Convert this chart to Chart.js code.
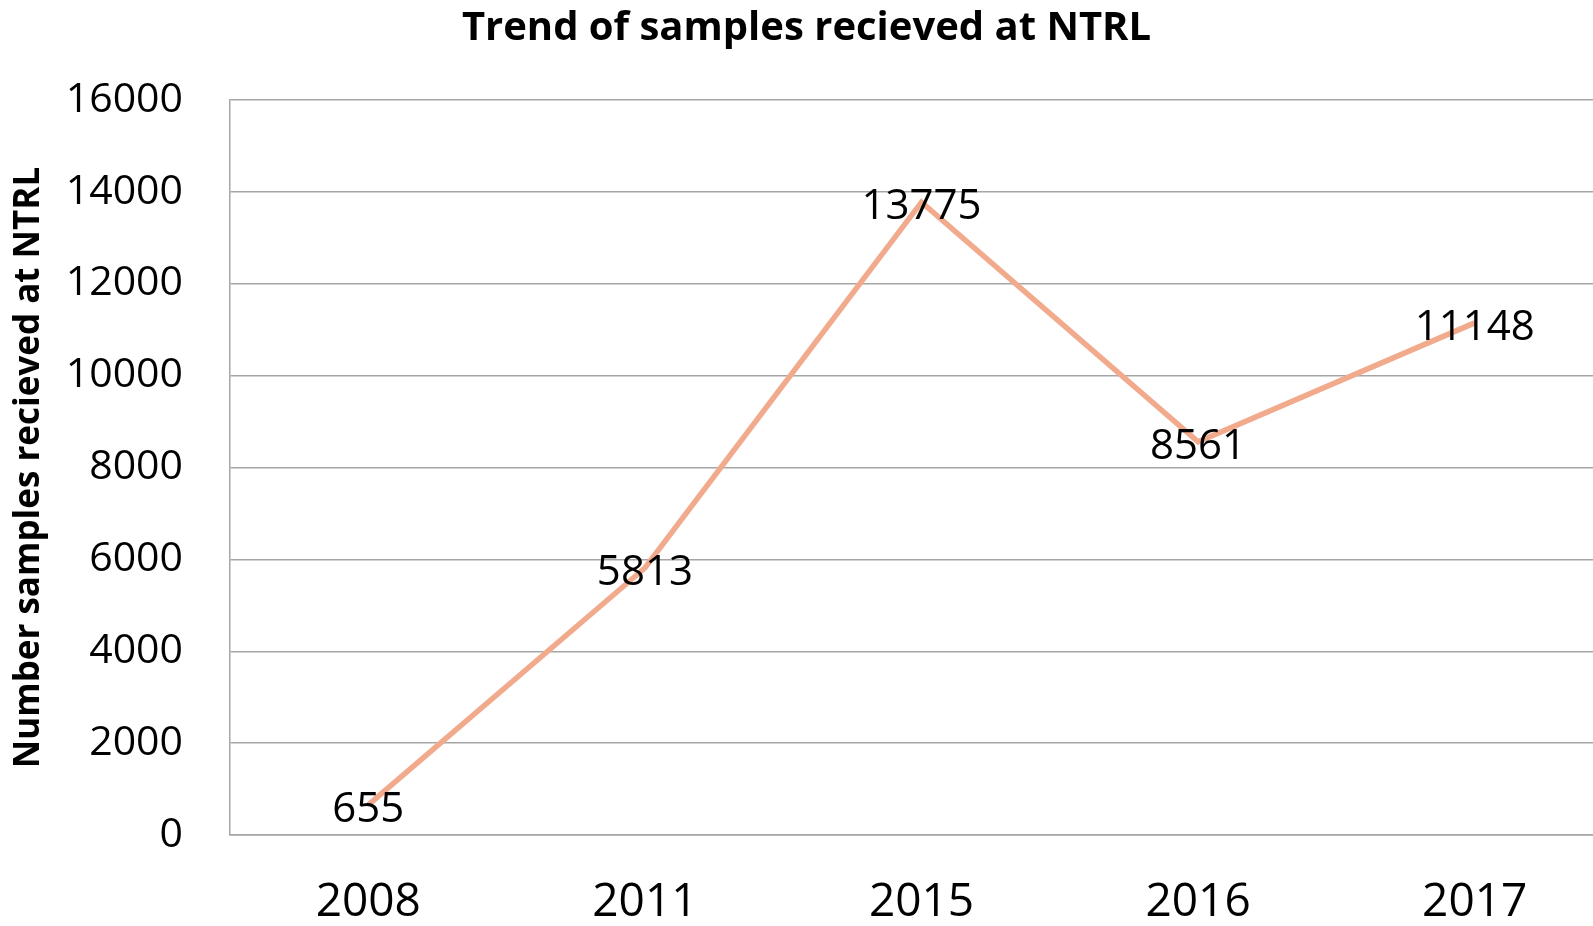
<!DOCTYPE html>
<html>
<head>
<meta charset="utf-8">
<script src="https://cdn.jsdelivr.net/npm/chart.js@4.4.0/dist/chart.umd.min.js"></script>
<style>
html,body{margin:0;padding:0;overflow:hidden;background:#fff;}
#wrap{width:1613px;height:926px;}
</style>
</head>
<body>
<div id="wrap"><canvas id="c" width="1613" height="926"></canvas></div>
<script>
const categories = ["2008", "2011", "2015", "2016", "2017"];
const samples = [655, 5813, 13775, 8561, 11148];
const chartTitle = "Trend of samples recieved at NTRL";
const yAxisTitle = "Number samples recieved at NTRL";
const yTicks = { min: 0, max: 16000, step: 2000 };

const FONT = "'Open Sans', 'Noto Sans', 'Liberation Sans', sans-serif";

const titlePlugin = {
  id: 'customTitle',
  afterDraw(chart) {
    const ctx = chart.ctx;
    ctx.save();
    ctx.font = "bold 40px " + FONT;
    ctx.fillStyle = '#000';
    ctx.textAlign = 'center';
    ctx.textBaseline = 'middle';
    ctx.fillText(chartTitle, chart.width / 2, 29);
    ctx.restore();
  }
};

const labelPlugin = {
  id: 'pointLabels',
  afterDatasetsDraw(chart) {
    const ctx = chart.ctx;
    const meta = chart.getDatasetMeta(0);
    const data = chart.data.datasets[0].data;
    ctx.save();
    ctx.font = "42px " + FONT;
    ctx.fillStyle = '#000';
    ctx.textAlign = 'center';
    ctx.textBaseline = 'middle';
    meta.data.forEach((pt, i) => {
      ctx.fillText(String(data[i]), pt.x, pt.y + 5);
    });
    ctx.restore();
  }
};

new Chart(document.getElementById('c'), {
  type: 'line',
  data: {
    labels: categories,
    datasets: [{
      data: samples,
      borderColor: 'rgb(242,170,140)',
      borderWidth: 5.5,
      pointRadius: 0,
      tension: 0,
      fill: false
    }]
  },
  options: {
    responsive: false,
    animation: false,
    layout: { padding: { top: 100, left: 0, right: 0, bottom: 0 } },
    plugins: {
      legend: { display: false },
      title: { display: false },
      tooltip: { enabled: false }
    },
    scales: {
      x: {
        offset: true,
        grid: { display: false, drawTicks: false },
        border: { display: true, color: '#a6a6a6', width: 1.5 },
        ticks: { color: '#000', font: { family: FONT, size: 46 }, padding: 40, maxRotation: 0 },
        afterFit(scale) { scale.height = 91; }
      },
      y: {
        min: yTicks.min,
        max: yTicks.max,
        grid: { color: '#a6a6a6', lineWidth: 1.5, drawTicks: false },
        border: { display: true, color: '#a6a6a6', width: 1.5 },
        ticks: {
          stepSize: yTicks.step, color: '#000', font: { family: FONT, size: 41 }, padding: 47,
          callback: (v) => String(v)
        },
        title: {
          display: true,
          text: yAxisTitle,
          color: '#000',
          font: { family: FONT, size: 35, weight: 'bold' },
          padding: { top: 8, bottom: 0 }
        },
        afterFit(scale) { scale.width = 230; }
      }
    }
  },
  plugins: [titlePlugin, labelPlugin]
});
</script>
</body>
</html>
